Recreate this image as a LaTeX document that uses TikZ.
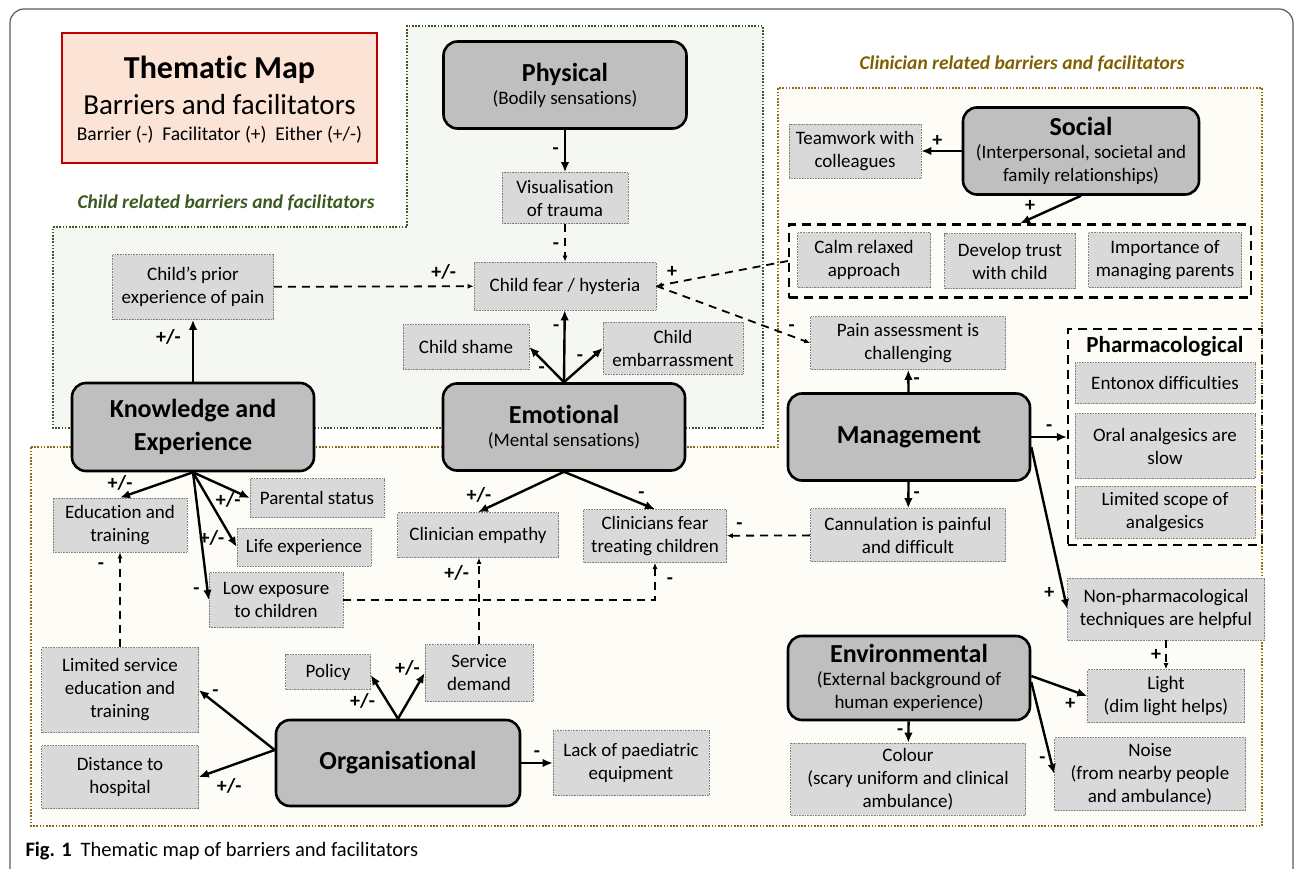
\documentclass[tikz,border=0pt]{standalone}
\usepackage{fontspec}
\setmainfont{Carlito}[Ligatures={NoCommon}]
\usetikzlibrary{arrows.meta}

\definecolor{childgreen}{RGB}{58,90,34}
\definecolor{childfill}{RGB}{245,247,242}
\definecolor{clingold}{RGB}{140,108,20}
\definecolor{clintext}{RGB}{127,96,0}
\definecolor{clinfill}{RGB}{253,252,246}
\definecolor{titlered}{RGB}{192,0,0}
\definecolor{titlefill}{RGB}{251,228,214}
\definecolor{themegray}{RGB}{191,191,191}
\definecolor{subgray}{RGB}{217,217,217}
\definecolor{framegray}{RGB}{90,90,90}

\newcommand\headtxt[1]{{\bfseries\fontsize{26}{31}\selectfont #1}}

\tikzset{
    wh/.style 2 args={minimum width=#1pt, minimum height=#2pt},
    theme/.style={draw=black, line width=2.6pt, fill=themegray, rounded corners=14pt,
        align=center, inner sep=0pt, font=\fontsize{19}{23}\selectfont},
    subtheme/.style={draw=gray, densely dotted, line width=0.6pt, fill=subgray,
        align=center, inner sep=0pt, font=\fontsize{19}{23}\selectfont},
    groupbox/.style={draw=black, line width=2.2pt, dash pattern=on 9pt off 6pt, inner sep=0pt},
    titlebox/.style={draw=titlered, line width=2.5pt, fill=titlefill},
    region/.style={line width=1.8pt, dash pattern=on 1.6pt off 1.6pt},
    regtitle/.style={font=\bfseries\itshape\fontsize{19.5}{23}\selectfont},
    link/.style={line width=2.4pt, -{Latex[length=10pt,width=8.5pt]}},
    dlink/.style={line width=1.8pt, dash pattern=on 8pt off 6pt, -{Latex[length=6pt,width=5pt]}},
    sgn/.style={font=\bfseries\fontsize{20}{20}\selectfont, inner sep=1pt},
}

\begin{document}
\begin{tikzpicture}[x=1pt, y=-1pt]
    \useasboundingbox (0,0) rectangle (1295,869);
    \draw[framegray, line width=1.2pt, rounded corners=14pt] (10,9) rectangle (1293,884);

    \draw[region, draw=childgreen, fill=childfill] (53,227) -- (407,227) -- (407,26) -- (763,26) -- (763,428) -- (53,428) -- cycle;
    \draw[region, draw=clingold, fill=clinfill] (31,447) -- (778,447) -- (778,88) -- (1262,88) -- (1262,826) -- (31,826) -- cycle;
    \node[regtitle, text=childgreen] (childlbl) at (226,203) {Child related barriers and facilitators};
    \node[regtitle, text=clintext] (clinlbl) at (1022,64) {Clinician related barriers and facilitators};

    \node[titlebox, wh={315}{130}] (ttlbox) at (219.5,98) {};
    \node[anchor=base, font=\bfseries\fontsize{32}{36}\selectfont] (ttlmain) at (219.5,79) {Thematic Map};
    \node[anchor=base, font=\fontsize{29}{33}\selectfont] (ttlsub) at (219.5,115) {Barriers and facilitators};
    \node[anchor=base, font=\fontsize{19.5}{23}\selectfont] (ttlkey) at (219.5,141) {Barrier (-)~~Facilitator (+)~~Either (+/-)};

    \node[theme, wh={243}{87}] (phys) at (565,85) {\headtxt{Physical}\\(Bodily sensations)};
    \node[theme, wh={236}{87}] (social) at (1081,151) {\headtxt{Social}\\(Interpersonal, societal and\\family relationships)};
    \node[theme, wh={242}{88}, font=\bfseries\fontsize{26}{33}\selectfont] (know) at (193,427) {Knowledge and\\Experience};
    \node[theme, wh={242}{87}] (emot) at (564,427) {\headtxt{Emotional}\\(Mental sensations)};
    \node[theme, wh={242}{87}] (man) at (909,437) {\headtxt{Management}};
    \node[theme, wh={244}{86}] (org) at (398,763) {\headtxt{Organisational}};
    \node[theme, wh={242}{84}] (env) at (909,678) {\headtxt{Environmental}\\(External background of\\human experience)};

    \node[subtheme, wh={126}{51}] (vis) at (565,198) {Visualisation\\of trauma};
    \node[subtheme, wh={182}{48}] (cfear) at (565,286) {Child fear / hysteria};
    \node[subtheme, wh={161}{65}] (prior) at (193,287) {Child’s prior\\experience of pain};
    \node[subtheme, wh={126}{45}] (shame) at (466,347) {Child shame};
    \node[subtheme, wh={140}{52}] (emb) at (673,348) {Child\\embarrassment};
    \node[subtheme, wh={132}{54}] (team) at (855,151) {Teamwork with\\colleagues};
    \node[groupbox, wh={462}{73}] (group) at (1020,261) {};
    \node[subtheme, wh={133}{55}] (calm) at (864,260) {Calm relaxed\\approach};
    \node[subtheme, wh={131}{55}] (trust) at (1010,261) {Develop trust\\with child};
    \node[subtheme, wh={153}{55}] (parents) at (1165,260) {Importance of\\managing parents};
    \node[subtheme, wh={195}{53}] (pain) at (908,343) {Pain assessment is\\challenging};
    \node[groupbox, wh={194}{216}] (pharm) at (1165,437) {};
    \node[font=\bfseries\fontsize{23}{27}\selectfont] (pharmlbl) at (1165,346) {Pharmacological};
    \node[subtheme, wh={180}{41}] (ento) at (1165,383) {Entonox difficulties};
    \node[subtheme, wh={180}{65}] (oral) at (1165,446) {Oral analgesics are\\slow};
    \node[subtheme, wh={180}{52}] (scope) at (1165,512) {Limited scope of\\analgesics};
    \node[subtheme, wh={195}{53}] (cann) at (908,535) {Cannulation is painful\\and difficult};
    \node[subtheme, wh={197}{62}] (nonph) at (1166,609) {Non-pharmacological\\techniques are helpful};
    \node[subtheme, wh={157}{53}] (light) at (1166,696) {Light\\(dim light helps)};
    \node[subtheme, wh={191}{73}] (noise) at (1150,774) {Noise\\(from nearby people\\and ambulance)};
    \node[subtheme, wh={235}{72}] (colour) at (908,779) {Colour\\(scary uniform and clinical\\ambulance)};
    \node[subtheme, wh={134}{54}] (edu) at (120,525) {Education and\\training};
    \node[subtheme, wh={134}{39}] (par) at (317,498) {Parental status};
    \node[subtheme, wh={134}{38}] (life) at (304,547) {Life experience};
    \node[subtheme, wh={134}{55}] (low) at (276,600) {Low exposure\\to children};
    \node[subtheme, wh={161}{45}] (emp) at (478,535) {Clinician empathy};
    \node[subtheme, wh={143}{53}] (cfr) at (655,536) {Clinicians fear\\treating children};
    \node[subtheme, wh={157}{85}] (lim) at (120,690) {Limited service\\education and\\training};
    \node[subtheme, wh={157}{63}] (dist) at (120,777) {Distance to\\hospital};
    \node[subtheme, wh={85}{35}] (pol) at (328,672) {Policy};
    \node[subtheme, wh={108}{57}] (svc) at (479,673) {Service\\demand};
    \node[subtheme, wh={156}{65}] (lack) at (631,763) {Lack of paediatric\\equipment};

    \draw[link] (phys) -- node[sgn, left=4pt] {-} (vis);
    \draw[dlink] (vis) -- node[sgn, left=4pt, pos=0.6] {-} (cfear);
    \draw[dlink] (prior) -- node[sgn, above=5pt, pos=0.85] {+/-} (cfear);
    \draw[dlink] (group.west) -- node[sgn, above=4pt, pos=0.88] {+} (cfear.east);
    \draw[dlink] (cfear.east) -- node[sgn, above=3pt, pos=0.88] {-} (pain.west);
    \draw[link] (emot.north) -- node[sgn, left=3pt, pos=0.75] {-} (cfear);
    \draw[link] (emot.north) -- node[sgn, left=5pt, pos=0.35] {-} (shame.east);
    \draw[link] (emot.north) -- node[sgn, above left=0pt, pos=0.55] {-} (emb.west);

    \draw[link] (know) -- node[sgn, left=10pt, pos=0.72] {+/-} (prior);
    \draw[link] (know.south) -- node[sgn, above left, pos=0.8] {+/-} (edu.north);
    \draw[link] (know.south) -- node[sgn, below=2pt, pos=0.62] {+/-} (par.west);
    \draw[link] (know.south) -- node[sgn, left=5pt, pos=0.88] {+/-} (life.west);
    \draw[link] (know.south) -- node[sgn, left=6pt, pos=0.93] {-} (low.west);
    \draw[dlink] (low.east) -| node[sgn, right=10pt, pos=0.76] {-} (cfr.south);
    \draw[dlink] (svc.north) -- node[sgn, left=8pt, pos=0.82] {+/-} (svc.north |- emp.south);
    \draw[link] (emot.south) -- node[sgn, above left, pos=0.82] {+/-} (emp.north);
    \draw[link] (emot.south) -- node[sgn, above=3pt, pos=0.85] {-} (cfr.north);
    \draw[dlink] (cann) -- node[sgn, above=4pt, pos=0.85] {-} (cfr);

    \draw[link] (man) -- node[sgn, right=3pt] {-} (pain);
    \draw[link] (man) -- node[sgn, right=3pt] {-} (cann);
    \draw[link] (man.east) -- node[sgn, above=3pt] {-} (pharm.west);
    \draw[link] ([yshift=-10pt]man.east) -- node[sgn, left=7pt, pos=0.9] {+} (nonph.west);
    \draw[dlink] (nonph) -- node[sgn, left=3pt] {+} (light);
    \draw[link] ([yshift=2pt]env.east) -- node[sgn, below=6pt, pos=0.7] {+} (light.west);
    \draw[link] ([yshift=-4pt]env.east) -- node[sgn, left=3pt, pos=0.85] {-} (noise.west);
    \draw[link] (env) -- node[sgn, left=3pt] {-} (colour);
    \draw[link] (social) -- node[sgn, above=2pt, pos=0.6] {+} (team);
    \draw[link] (social.south) -- node[sgn, above left=1pt, pos=0.7] {+} (group.north);

    \draw[dlink] (lim) -- node[sgn, left=14pt, pos=0.85] {-} (edu);
    \draw[link] ([yshift=13pt]org.west) -- node[sgn, above right, pos=0.85] {-} (lim.east);
    \draw[link] ([yshift=13pt]org.west) -- node[sgn, below=10pt, pos=0.6] {+/-} (dist.east);
    \draw[link] (org.north) -- node[sgn, left=10pt, pos=0.4] {+/-} ([yshift=-3pt]pol.east);
    \draw[link] (org.north) -- node[sgn, above left, pos=0.9] {+/-} (svc.west);
    \draw[link] (org) -- node[sgn, above=3pt] {-} (lack);

    \node[anchor=base west, font=\fontsize{20.5}{24}\selectfont] (caption) at (22,856) {\textbf{Fig. 1}\hspace{9pt}Thematic map of barriers and facilitators};
\end{tikzpicture}
\end{document}
